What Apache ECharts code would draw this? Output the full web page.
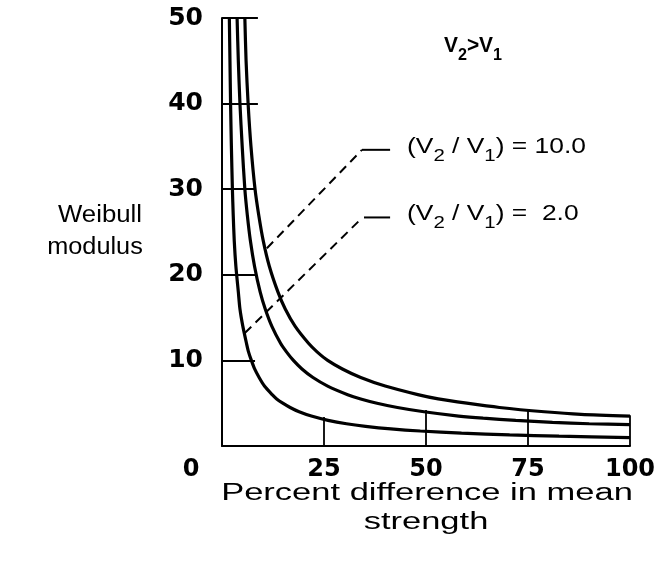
<!DOCTYPE html>
<html>
<head>
<meta charset="utf-8">
<script src="https://cdn.jsdelivr.net/npm/echarts@6/dist/echarts.min.js"></script>
<style>
html,body{margin:0;padding:0;background:#fff;}
#chart{width:659px;height:567px;}
</style>
</head>
<body>
<div id="chart"></div>
<script>
// ---- data ----
const xTicks = [0, 25, 50, 75, 100];
const yTicks = [0, 10, 20, 30, 40, 50];
// [percent difference in mean strength, Weibull modulus]
const curveRatio2 = [[1.8,50],[1.95,45],[2.1,40],[2.3,35],[2.55,30],[2.75,27],[3.0,24],[3.4,21],[4.0,18],[4.4,16],[5.1,14],[6.0,12],[6.5,11],[7.2,10],[8.0,9],[9.1,8],[10.4,7],[12.3,6],[13.4,5.5],[14.9,5],[16.7,4.5],[18.9,4],[21.9,3.5],[26,3],[30.5,2.6],[35.2,2.3],[41.4,2],[48.6,1.75],[58.7,1.5],[70.5,1.3],[82.6,1.15],[100,0.98]];
const curveRatio5 = [[3.7,50],[4.0,45],[4.4,40],[4.95,35],[5.6,30],[6.2,27],[6.95,24],[7.97,21],[9.35,18],[10.6,16],[12.2,14],[14.35,12],[15.8,11],[17.5,10],[19.6,9],[22.3,8],[25.9,7],[30.8,6],[34,5.5],[38,5],[43,4.5],[49.5,4],[58,3.5],[64,3.25],[72,3.0],[81,2.75],[90,2.6],[100,2.5]];
const curveRatio10 = [[5.6,50],[5.9,45],[6.4,40],[7.1,35],[8.1,30],[9.0,27],[10.1,24],[11.6,21],[13.7,18],[15.5,16],[17.9,14],[21.2,12],[23.3,11],[25.9,10],[29.5,9],[34,8],[40,7],[48,6],[53,5.5],[60,5],[68,4.5],[79,4],[88,3.7],[100,3.5]];
// short reference lines: horizontal [y, x end], vertical [x, y end]
const gridH = [[10,8.1],[20,8.3],[30,8.1],[40,8.8],[50,8.8]];
const gridV = [[25,3.4],[50,4.2],[75,4.1],[100,3.6]];
// leader lines for the annotations
const leader10Dash = [[11.0,23.1],[34.3,34.6]];
const leader10Tail = [[34.3,34.6],[41.2,34.6]];
const leader2Dash = [[5.6,13.2],[33.8,26.4]];
const leader2Tail = [[34.8,26.7],[41.2,26.7]];
const xTitle = ['Percent difference in mean', 'strength'];
const yTitle = ['Weibull', 'modulus'];
const label10 = '{a|(V}{s|2}{a| / V}{s|1}{a|) = 10.0}';
const label2 = '{a|(V}{s|2}{a| / V}{s|1}{a|) =  2.0}';
const cornerNote = '{a|V}{s|2}{a|>V}{s|1}';

const TICKFONT = 'DejaVu Sans';
const TITLEFONT = 'Liberation Sans';

const chart = echarts.init(document.getElementById('chart'), null, {renderer: 'canvas'});

const markSegs = [];
gridH.forEach(([y, xe]) => markSegs.push([{coord: [0, y]}, {coord: [xe, y]}]));
gridV.forEach(([x, ye]) => markSegs.push([{coord: [x, 0]}, {coord: [x, ye]}]));

function curve(name, data) {
  return {
    name, type: 'line', data, showSymbol: false, symbol: 'none',
    smooth: 0.25, clip: false,
    lineStyle: {color: '#000', width: 3.2}, z: 5, silent: true
  };
}
function seg(data, dashed) {
  return {
    type: 'line', data, showSymbol: false, symbol: 'none', clip: false, silent: true,
    lineStyle: {color: '#000', width: 2, type: dashed ? [9, 6] : 'solid'}, z: 4
  };
}
const richStyle = {
  a: {fontFamily: TITLEFONT, fontSize: 22, lineHeight: 22, verticalAlign: 'top', fill: '#000', color: '#000'},
  s: {fontFamily: TITLEFONT, fontSize: 17, lineHeight: 29, verticalAlign: 'bottom', fill: '#000', color: '#000'}
};
const richBold = {
  a: Object.assign({}, richStyle.a, {fontWeight: 'bold'}),
  s: Object.assign({}, richStyle.s, {fontWeight: 'bold'})
};

const option = {
  animation: false,
  backgroundColor: '#fff',
  grid: {left: 222, right: 29, top: 18, bottom: 121, containLabel: false},
  xAxis: {
    type: 'value', min: 0, max: 100, interval: 25,
    axisLine: {show: true, onZero: false, lineStyle: {color: '#000', width: 2}},
    axisTick: {show: false},
    splitLine: {show: false},
    axisLabel: {
      color: '#000', fontFamily: TICKFONT, fontWeight: 'bold', fontSize: 24, margin: 12,
      formatter: v => v === 0 ? '{z|0}' : String(v),
      rich: {z: {color: '#000', fontFamily: TICKFONT, fontWeight: 'bold', fontSize: 24, padding: [0, 62, 0, 0]}}
    }
  },
  yAxis: {
    type: 'value', min: 0, max: 50, interval: 10,
    axisLine: {show: true, onZero: false, lineStyle: {color: '#000', width: 2}},
    axisTick: {show: false},
    splitLine: {show: false},
    axisLabel: {
      color: '#000', fontFamily: TICKFONT, fontWeight: 'bold', fontSize: 25, margin: 19,
      formatter: v => v === 0 ? '' : String(v)
    }
  },
  series: [
    curve('V2/V1 = 2.0', curveRatio2),
    curve('V2/V1 = 5.0', curveRatio5),
    curve('V2/V1 = 10.0', curveRatio10),
    seg(leader10Dash, true), seg(leader10Tail, false),
    seg(leader2Dash, true), seg(leader2Tail, false),
    {
      type: 'line', data: [], silent: true,
      markLine: {
        silent: true, symbol: ['none', 'none'], label: {show: false},
        lineStyle: {color: '#000', width: 1.8, type: 'solid'},
        data: markSegs
      }
    }
  ],
  graphic: [
    {type: 'text', x: 100, y: 216, scaleX: 1.12, silent: true,
     style: {text: yTitle[0], fontFamily: TITLEFONT, fontSize: 23, fill: '#000', align: 'center', verticalAlign: 'middle'}},
    {type: 'text', x: 95, y: 248, scaleX: 1.1, silent: true,
     style: {text: yTitle[1], fontFamily: TITLEFONT, fontSize: 23, fill: '#000', align: 'center', verticalAlign: 'middle'}},
    {type: 'text', x: 427, y: 494, scaleX: 1.5, silent: true,
     style: {text: xTitle[0], fontFamily: TITLEFONT, fontSize: 23, fill: '#000', align: 'center', verticalAlign: 'middle'}},
    {type: 'text', x: 426, y: 523, scaleX: 1.5, silent: true,
     style: {text: xTitle[1], fontFamily: TITLEFONT, fontSize: 23, fill: '#000', align: 'center', verticalAlign: 'middle'}},
    {type: 'text', x: 473, y: 49, scaleX: 0.95, silent: true,
     style: {text: cornerNote, rich: richBold, fill: '#000', align: 'center', verticalAlign: 'middle'}},
    {type: 'text', x: 407, y: 150, scaleX: 1.2, silent: true,
     style: {text: label10, rich: richStyle, fill: '#000', align: 'left', verticalAlign: 'middle'}},
    {type: 'text', x: 407, y: 217, scaleX: 1.2, silent: true,
     style: {text: label2, rich: richStyle, fill: '#000', align: 'left', verticalAlign: 'middle'}}
  ]
};
chart.setOption(option);
</script>
</body>
</html>
